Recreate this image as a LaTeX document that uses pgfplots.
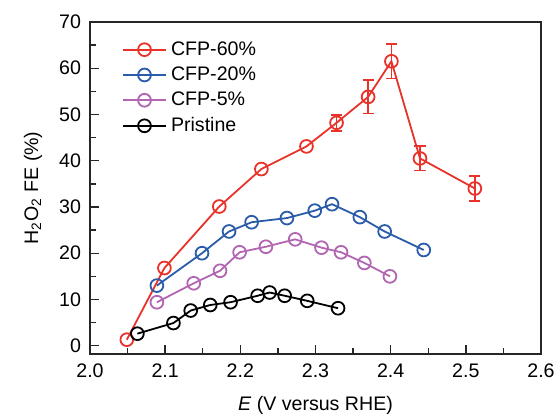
\documentclass[border=0pt]{standalone}
\usepackage{pgfplots}
\pgfplotsset{compat=1.18}
\usepackage{fontspec}
\setmainfont{Liberation Sans}
\definecolor{cred}{RGB}{232,50,42}
\definecolor{cblue}{RGB}{42,92,170}
\definecolor{cpurple}{RGB}{178,102,178}
\begin{document}
\begin{tikzpicture}
\begin{axis}[
  scale only axis,
  width=225.5pt, height=166pt,
  xmin=2.0, xmax=2.6, ymin=-1.8, ymax=70,
  xtick={2.0,2.1,...,2.6},
  ytick={0,10,...,70},
  minor x tick num=1, minor y tick num=1,
  xticklabel style={/pgf/number format/fixed,/pgf/number format/fixed zerofill,/pgf/number format/precision=1},
  /pgf/number format/assume math mode=true,
  tick align=inside,
  xtick pos=bottom, ytick pos=left,
  major tick length=4.5pt, minor tick length=3pt,
  axis line style={line width=0.7pt, black!85},
  tick style={line width=0.7pt, black!85},
  tick label style={font=\fontsize{9.8}{11}\selectfont},
  label style={font=\fontsize{9.8}{11}\selectfont},
  xlabel={\textit{E} (V versus RHE)},
  ylabel={H\textsubscript{2}O\textsubscript{2} FE (\%)},
  xlabel style={at={(axis description cs:0.5,0)}, anchor=center, yshift=-25.5pt},
  ylabel style={at={(axis description cs:0,0.5)}, anchor=center, yshift=28.5pt},
  xticklabel style={yshift=-1.5pt},
  yticklabel style={xshift=-1pt},
  legend style={draw=none, fill=none, at={(0.07,0.955)}, anchor=north west,
    font=\fontsize{9.8}{11}\selectfont, row sep=0.3pt, inner sep=0pt},
  legend cell align=left,
  legend image code/.code={\draw[mark repeat=2,mark phase=2] plot coordinates {(0cm,0cm) (0.38cm,0cm) (0.76cm,0cm)};},
  pl/.style={line width=0.9pt, mark=o, mark size=3.2pt, mark options={fill=white, solid, line width=0.9pt}},
]
% error bars of CFP-60% (drawn first, behind the markers)
\addplot[cred, draw=none, mark=none, forget plot, error bars/.cd, y dir=both, y explicit,
  error bar style={line width=0.9pt, solid}, error mark options={rotate=90, mark size=2.8pt, line width=0.9pt}]
  coordinates {
  (2.328,48.2) +- (0,1.7)
  (2.370,53.8) +- (0,3.6)
  (2.401,61.5) +- (0,3.7)
  (2.439,40.5) +- (0,2.6)
  (2.512,34.0) +- (0,2.7)
};
\addplot[pl, cred] coordinates {
  (2.049,1.3) (2.099,16.8) (2.172,30.1) (2.228,38.2) (2.288,43.1)
  (2.328,48.2) (2.370,53.8) (2.401,61.5) (2.439,40.5) (2.512,34.0)
};
\addlegendentry{CFP-60\%}
\addplot[pl, cblue] coordinates {
  (2.089,13.0) (2.149,20.0) (2.185,24.7) (2.215,26.7) (2.262,27.6)
  (2.299,29.2) (2.322,30.6) (2.359,27.8) (2.392,24.7) (2.444,20.7)
};
\addlegendentry{CFP-20\%}
\addplot[pl, cpurple] coordinates {
  (2.089,9.4) (2.138,13.5) (2.173,16.2) (2.199,20.2) (2.234,21.4)
  (2.273,23.0) (2.308,21.2) (2.334,20.2) (2.365,17.9) (2.399,15.0)
};
\addlegendentry{CFP-5\%}
\addplot[pl, black] coordinates {
  (2.063,2.6) (2.111,4.9) (2.134,7.6) (2.160,8.8) (2.187,9.4)
  (2.223,10.8) (2.239,11.5) (2.259,10.8) (2.289,9.7) (2.330,8.1)
};
\addlegendentry{Pristine}
\coordinate (SW) at (rel axis cs:0,0);
\coordinate (NE) at (rel axis cs:1,1);
\end{axis}
\pgfresetboundingbox
\path[use as bounding box] ([xshift=-45pt,yshift=-32.5pt]SW) rectangle ([xshift=9pt,yshift=11pt]NE);
\end{tikzpicture}
\end{document}
